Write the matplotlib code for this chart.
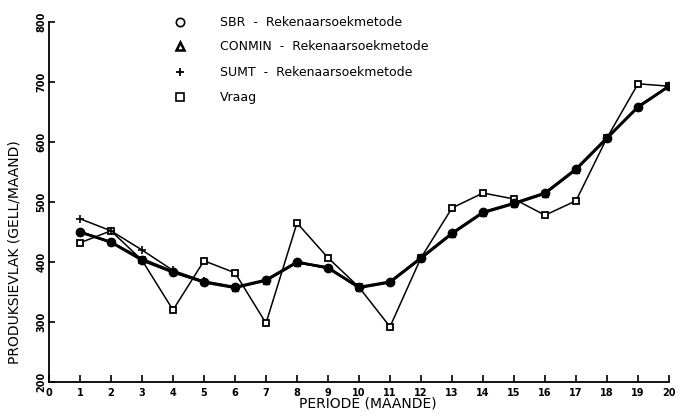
import numpy as np
import matplotlib
matplotlib.use("Agg")
import matplotlib.pyplot as plt

# Data
periods = list(range(1, 21))
vraag = [432, 452, 403, 320, 402, 382, 298, 465, 407, 358,
         292, 407, 490, 515, 505, 478, 502, 607, 697, 693]
sbr = [450, 433, 403, 383, 367, 358, 370, 400, 390, 358,
       367, 407, 448, 483, 498, 515, 555, 607, 658, 693]
conmin = [450, 433, 405, 384, 366, 357, 369, 399, 391, 357,
          366, 406, 447, 482, 497, 514, 554, 606, 659, 693]
sumt = [472, 452, 420, 386, 368, 358, 370, 400, 389, 357,
        367, 407, 448, 483, 498, 515, 555, 607, 658, 693]

xticks = list(range(0, 21))
yticks = [200, 300, 400, 500, 600, 700, 800]

legend_labels = ["SBR  -  Rekenaarsoekmetode",
                 "CONMIN  -  Rekenaarsoekmetode",
                 "SUMT  -  Rekenaarsoekmetode",
                 "Vraag"]


def main():
    fig = plt.figure(figsize=(6.93, 4.18), dpi=100)
    ax = fig.add_axes([49/693, 1-382/418, 620/693, 360/418])

    ax.plot(periods, vraag, color="black", lw=1.1, marker="s", ms=5,
            mfc="white", mec="black", mew=1.3, zorder=3)
    ax.plot(periods, sumt, color="black", lw=1.1, marker="+", ms=6, mew=1.2, zorder=4)
    ax.plot(periods, sbr, color="black", lw=2.0, marker="o", ms=6, zorder=5)
    ax.plot(periods, conmin, color="black", lw=1.8, marker="^", ms=5, zorder=5)

    ax.set_xlim(0, 20)
    ax.set_ylim(200, 800)
    ax.spines["top"].set_visible(False)
    ax.spines["right"].set_visible(False)
    ax.spines["left"].set_linewidth(1.3)
    ax.spines["bottom"].set_linewidth(1.3)

    ax.set_xticks(xticks)
    ax.set_xticklabels([str(t) for t in xticks], fontsize=7, fontweight="bold")
    ax.set_yticks(yticks)
    ax.set_yticklabels([str(t) for t in yticks], fontsize=7, fontweight="bold",
                       rotation=90, va="center")
    ax.tick_params(axis="x", direction="in", length=5, width=1.2, pad=4)
    ax.tick_params(axis="y", direction="in", length=4, width=1.2, pad=2)

    ax.set_xlabel("PERIODE (MAANDE)", fontsize=10)
    ax.xaxis.set_label_coords(0.515, -0.04)
    ax.set_ylabel("PRODUKSIEVLAK (GELL/MAAND)", fontsize=10)
    ax.yaxis.set_label_coords(-0.045, 0.36)

    # Hand-drawn legend at the top
    rows_y = [22, 46, 72, 97]
    markers = [dict(marker="o", ms=6, mfc="white", mec="black", mew=1.2),
               dict(marker="^", ms=6, mfc="white", mec="black", mew=1.8),
               dict(marker="+", ms=6, mec="black", mew=1.3),
               dict(marker="s", ms=6, mfc="white", mec="black", mew=1.2)]
    for y, m, lab in zip(rows_y, markers, legend_labels):
        fy = 1 - y/418
        ax.plot([180/693], [fy], transform=fig.transFigure, clip_on=False,
                color="black", ls="none", **m)
        fig.text(220/693, fy, lab, fontsize=9, va="center", ha="left")

    fig.savefig("out.png", dpi=100)


if __name__ == "__main__":
    main()
